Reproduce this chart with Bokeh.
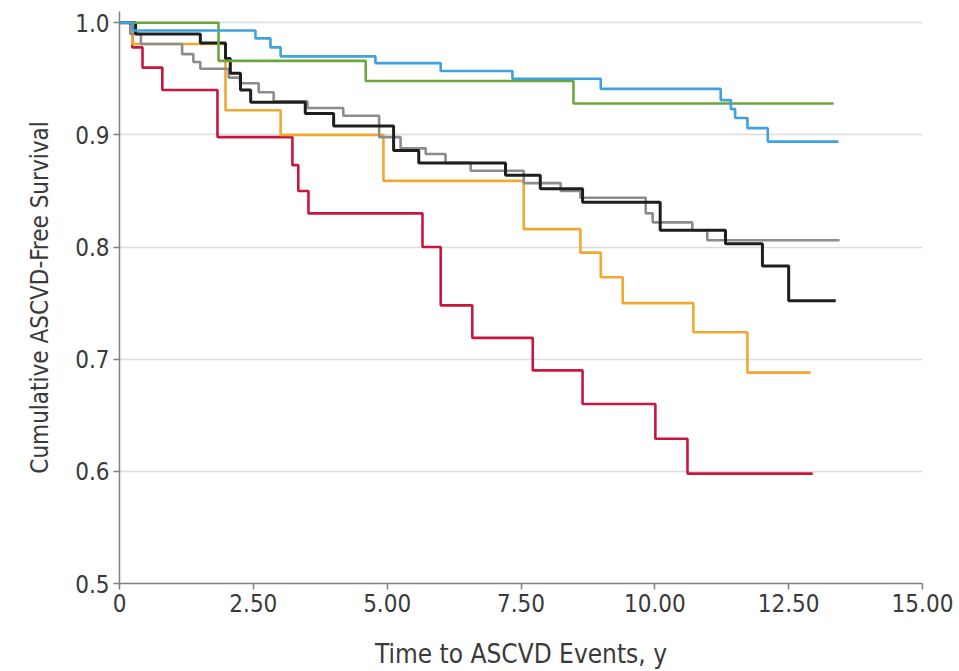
from bokeh.plotting import figure
from bokeh.models import Range1d, FixedTicker
from bokeh.embed import file_html
from bokeh.resources import INLINE

# ---- data ----
red_t = [0, 0.24, 0.43, 0.80, 1.83, 3.23, 3.34, 3.53, 5.66, 6.0, 6.59, 7.72, 8.65, 10.01, 10.61, 12.95]
red_s = [1.0, 0.978, 0.96, 0.94, 0.898, 0.873, 0.85, 0.83, 0.80, 0.748, 0.719, 0.69, 0.66, 0.629, 0.598, 0.598]

orange_t = [0, 0.24, 1.98, 3.01, 4.93, 7.55, 8.61, 8.99, 9.4, 10.72, 11.73, 12.91]
orange_s = [1.0, 0.981, 0.922, 0.9, 0.859, 0.816, 0.795, 0.773, 0.75, 0.724, 0.688, 0.688]

grey_t = [0, 0.2, 0.4, 1.17, 1.38, 1.51, 2.04, 2.25, 2.6, 2.88, 3.51, 4.18, 4.85, 5.25, 5.72, 6.09,
          6.56, 7.55, 8.24, 8.61, 9.83, 9.96, 10.7, 10.98, 13.45]
grey_s = [1.0, 0.99, 0.981, 0.972, 0.965, 0.959, 0.951, 0.946, 0.938, 0.93, 0.924, 0.917, 0.898, 0.888,
          0.883, 0.875, 0.868, 0.857, 0.85, 0.844, 0.83, 0.822, 0.815, 0.806, 0.806]

black_t = [0, 0.3, 1.51, 1.98, 2.07, 2.26, 2.45, 3.47, 4.0, 5.12, 5.59, 7.21, 7.86, 8.65, 10.1, 11.32,
           12.01, 12.5, 13.38]
black_s = [1.0, 0.99, 0.982, 0.968, 0.955, 0.94, 0.929, 0.919, 0.908, 0.886, 0.875, 0.864, 0.852, 0.84,
           0.815, 0.803, 0.783, 0.752, 0.752]

green_t = [0, 1.85, 4.6, 8.48, 13.34]
green_s = [1.0, 0.966, 0.948, 0.928, 0.928]

blue_t = [0, 0.25, 2.54, 2.82, 3.01, 4.78, 6.0, 7.34, 8.99, 11.23, 11.42, 11.5, 11.73, 12.11, 13.43]
blue_s = [1.0, 0.993, 0.986, 0.978, 0.970, 0.964, 0.957, 0.950, 0.941, 0.931, 0.923, 0.915, 0.906,
          0.894, 0.894]

x_ticks = [0, 2.5, 5.0, 7.5, 10.0, 12.5, 15.0]
x_tick_labels = ["0", "2.50", "5.00", "7.50", "10.00", "12.50", "15.00"]
y_ticks = [0.5, 0.6, 0.7, 0.8, 0.9, 1.0]
y_tick_labels = ["0.5", "0.6", "0.7", "0.8", "0.9", "1.0"]

FONT = "'Liberation Sans Narrow', 'DejaVu Sans Condensed', 'Open Sans', sans-serif"
TXT = "#3a3a3a"

p = figure(width=959, height=671, output_backend="svg", toolbar_location=None,
           x_range=Range1d(0, 15), y_range=Range1d(0.5, 1.01),
           min_border_left=119, min_border_right=37, min_border_top=11, min_border_bottom=88)
p.outline_line_color = None
p.background_fill_color = "white"
p.border_fill_color = "white"

series = [
    (red_t, red_s, "#c8173f", 2.6),
    (orange_t, orange_s, "#f0a830", 2.6),
    (grey_t, grey_s, "#8c8c8c", 2.6),
    (black_t, black_s, "#1e1e1e", 3.0),
    (green_t, green_s, "#6aa63c", 2.6),
    (blue_t, blue_s, "#3ea3dc", 2.6),
]
for t, s, c, w in series:
    p.step(t, s, mode="after", line_color=c, line_width=w)

# axes
p.xaxis.ticker = FixedTicker(ticks=x_ticks)
p.xaxis.major_label_overrides = {float(v): l for v, l in zip(x_ticks, x_tick_labels)}
p.yaxis.ticker = FixedTicker(ticks=y_ticks)
p.yaxis.major_label_overrides = {float(v): l for v, l in zip(y_ticks, y_tick_labels)}
p.xaxis.minor_tick_line_color = None
p.yaxis.minor_tick_line_color = None
for ax in (p.xaxis, p.yaxis):
    ax.axis_line_color = "#7f7f7f"
    ax.axis_line_width = 1.5
    ax.major_tick_line_color = "#7f7f7f"
    ax.major_tick_line_width = 1.5
    ax.major_tick_out = 6
    ax.major_tick_in = 0
    ax.major_label_text_font = FONT
    ax.major_label_text_font_size = "24px"
    ax.major_label_text_color = TXT
    ax.axis_label_text_font = FONT
    ax.axis_label_text_color = TXT
    ax.axis_label_text_font_style = "normal"

p.xaxis.axis_label_text_font_size = "26px"
p.yaxis.axis_label_text_font_size = "24px"
p.xaxis.axis_label = "Time to ASCVD Events, y"
p.yaxis.axis_label = "Cumulative ASCVD-Free Survival"
p.xaxis.major_label_standoff = 4
p.yaxis.major_label_standoff = 4
p.xaxis.axis_label_standoff = 24
p.yaxis.axis_label_standoff = 18

p.xgrid.grid_line_color = None
p.ygrid.ticker = FixedTicker(ticks=[0.6, 0.7, 0.8, 0.9, 1.0])
p.ygrid.grid_line_color = "#dcdcdc"
p.ygrid.grid_line_width = 1.5

open("out.html", "w").write(file_html(p, INLINE))
